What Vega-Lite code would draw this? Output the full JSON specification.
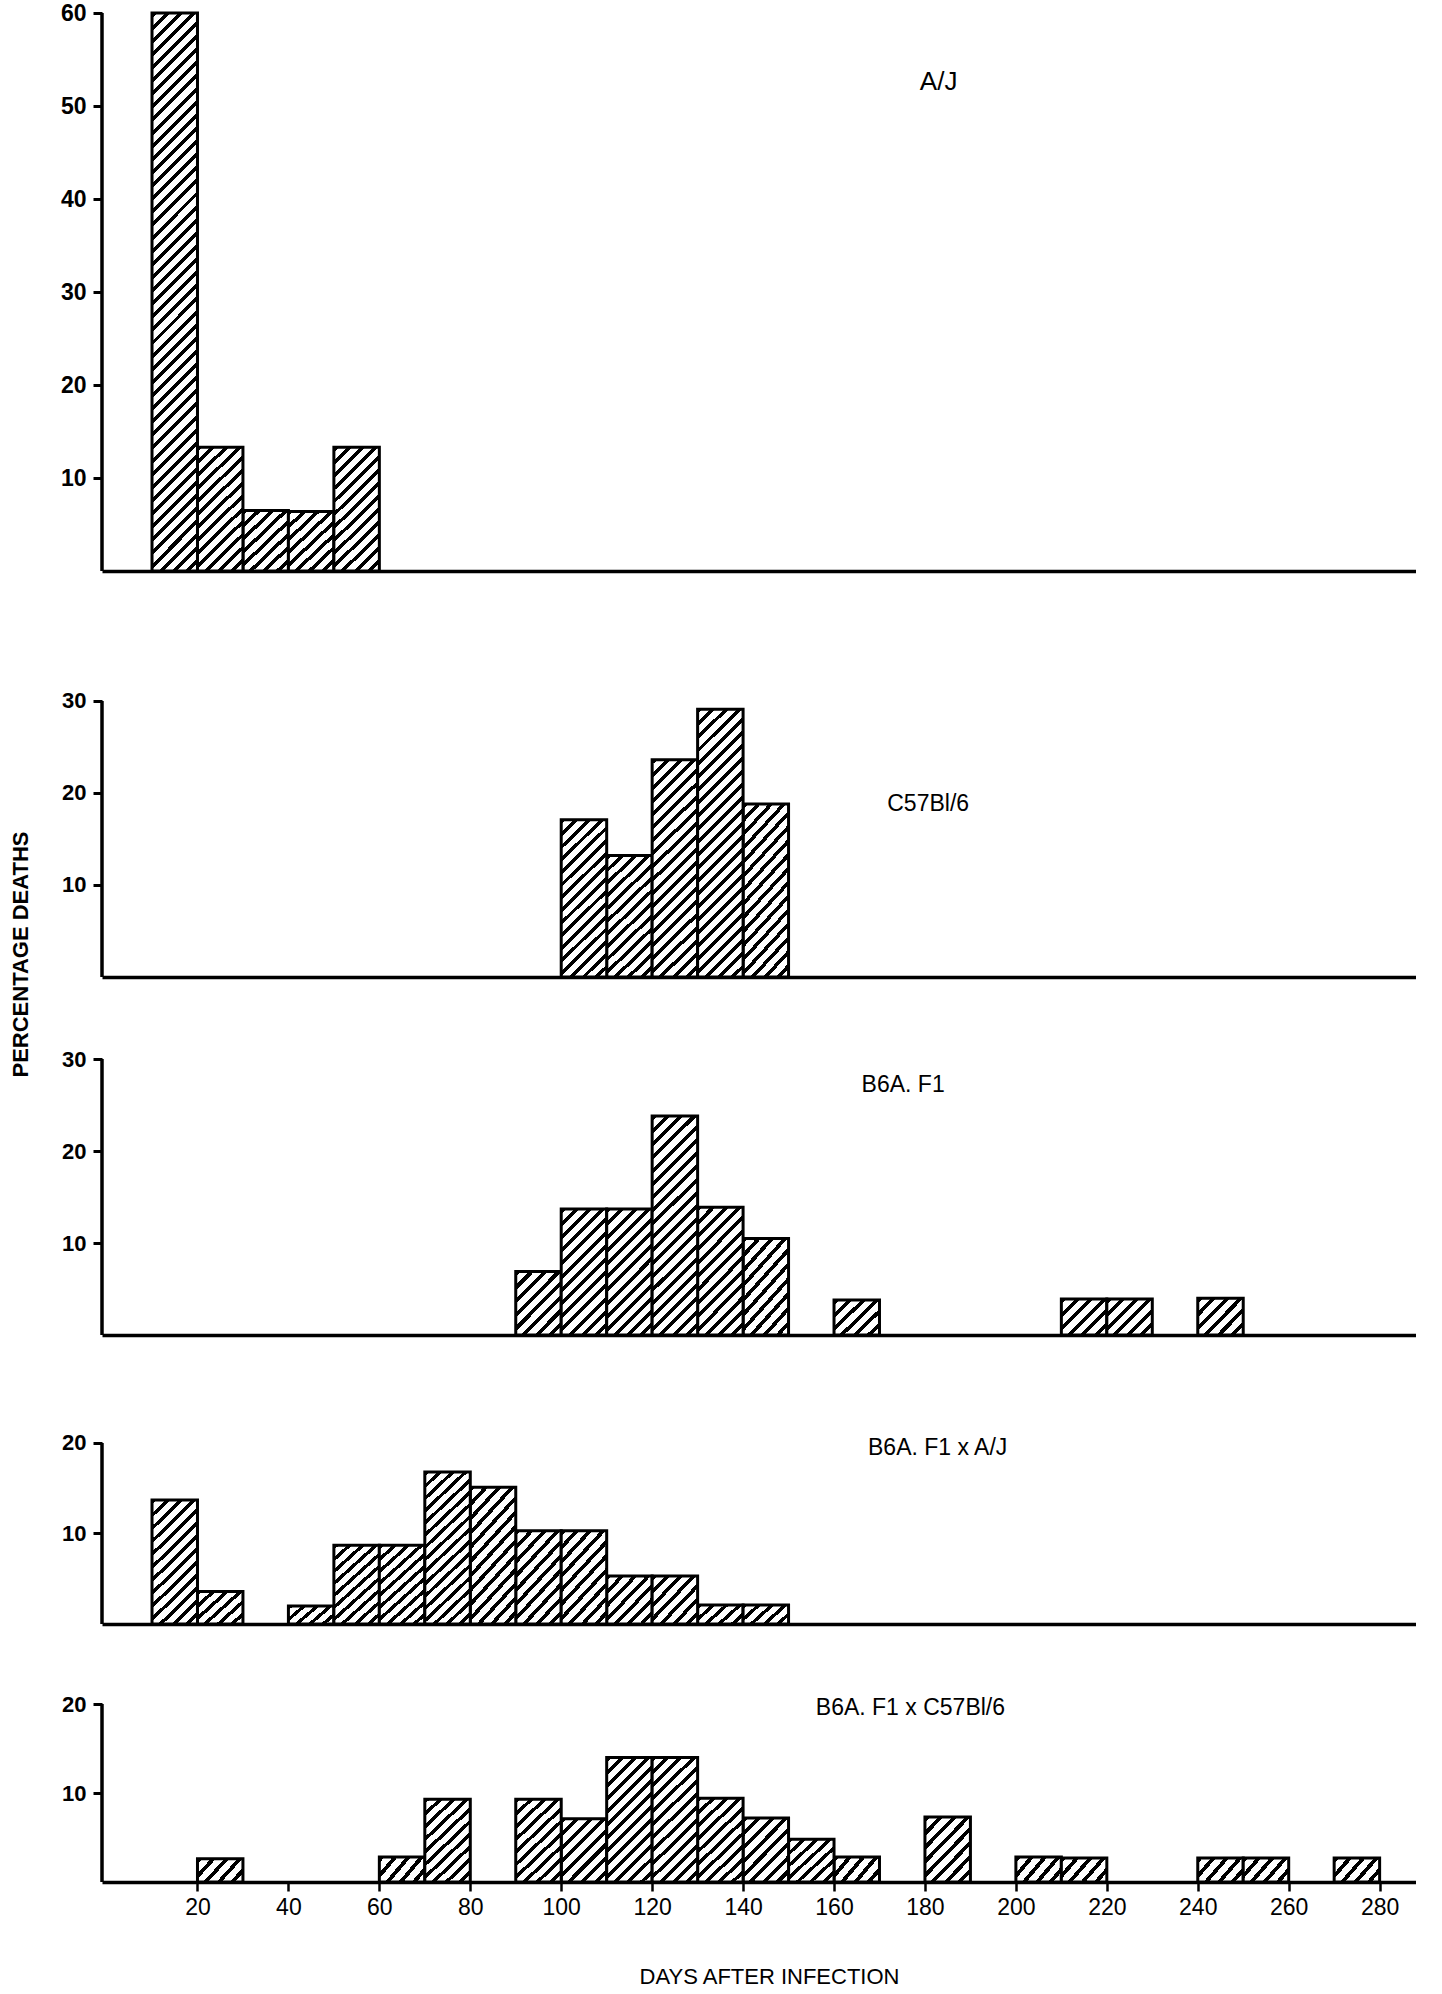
{
"$schema": "https://vega.github.io/schema/vega-lite/v6.json",
"background": "white",
"padding": {"left": 9, "top": 2, "right": 0, "bottom": 0},
"params": [
 {"name": "h1", "value": {"gradient": "linear", "x1": 0, "y1": 0, "x2": 1.2049, "y2": 0.5561, "stops": [
{"offset":0,"color":"#000"},{"offset":0.076,"color":"#000"},{"offset":0.076,"color":"#fff"},{"offset":0.2,"color":"#fff"},
{"offset":0.2,"color":"#000"},{"offset":0.276,"color":"#000"},{"offset":0.276,"color":"#fff"},{"offset":0.4,"color":"#fff"},
{"offset":0.4,"color":"#000"},{"offset":0.476,"color":"#000"},{"offset":0.476,"color":"#fff"},{"offset":0.6,"color":"#fff"},
{"offset":0.6,"color":"#000"},{"offset":0.676,"color":"#000"},{"offset":0.676,"color":"#fff"},{"offset":0.8,"color":"#fff"},
{"offset":0.8,"color":"#000"},{"offset":0.876,"color":"#000"},{"offset":0.876,"color":"#fff"},{"offset":1,"color":"#fff"}]}},
 {"name": "h2", "value": {"gradient": "linear", "x1": 0, "y1": 0, "x2": 1.1016, "y2": 0.8716, "stops": [
{"offset":0,"color":"#000"},{"offset":0.0633,"color":"#000"},{"offset":0.0633,"color":"#fff"},{"offset":0.1667,"color":"#fff"},
{"offset":0.1667,"color":"#000"},{"offset":0.23,"color":"#000"},{"offset":0.23,"color":"#fff"},{"offset":0.3333,"color":"#fff"},
{"offset":0.3333,"color":"#000"},{"offset":0.3967,"color":"#000"},{"offset":0.3967,"color":"#fff"},{"offset":0.5,"color":"#fff"},
{"offset":0.5,"color":"#000"},{"offset":0.5633,"color":"#000"},{"offset":0.5633,"color":"#fff"},{"offset":0.6667,"color":"#fff"},
{"offset":0.6667,"color":"#000"},{"offset":0.73,"color":"#000"},{"offset":0.73,"color":"#fff"},{"offset":0.8333,"color":"#fff"},
{"offset":0.8333,"color":"#000"},{"offset":0.8967,"color":"#000"},{"offset":0.8967,"color":"#fff"},{"offset":1,"color":"#fff"}]}},
 {"name": "h3", "value": {"gradient": "linear", "x1": 0, "y1": 0, "x2": 0.9945, "y2": 1.0054, "stops": [
{"offset":0,"color":"#000"},{"offset":0.0543,"color":"#000"},{"offset":0.0543,"color":"#fff"},{"offset":0.1429,"color":"#fff"},
{"offset":0.1429,"color":"#000"},{"offset":0.1971,"color":"#000"},{"offset":0.1971,"color":"#fff"},{"offset":0.2857,"color":"#fff"},
{"offset":0.2857,"color":"#000"},{"offset":0.34,"color":"#000"},{"offset":0.34,"color":"#fff"},{"offset":0.4286,"color":"#fff"},
{"offset":0.4286,"color":"#000"},{"offset":0.4829,"color":"#000"},{"offset":0.4829,"color":"#fff"},{"offset":0.5714,"color":"#fff"},
{"offset":0.5714,"color":"#000"},{"offset":0.6257,"color":"#000"},{"offset":0.6257,"color":"#fff"},{"offset":0.7143,"color":"#fff"},
{"offset":0.7143,"color":"#000"},{"offset":0.7686,"color":"#000"},{"offset":0.7686,"color":"#fff"},{"offset":0.8571,"color":"#fff"},
{"offset":0.8571,"color":"#000"},{"offset":0.9114,"color":"#000"},{"offset":0.9114,"color":"#fff"},{"offset":1,"color":"#fff"}]}},
 {"name": "h4", "value": {"gradient": "linear", "x1": 0, "y1": 0, "x2": 0.8174, "y2": 1.1318, "stops": [
{"offset":0,"color":"#000"},{"offset":0.0475,"color":"#000"},{"offset":0.0475,"color":"#fff"},{"offset":0.125,"color":"#fff"},
{"offset":0.125,"color":"#000"},{"offset":0.1725,"color":"#000"},{"offset":0.1725,"color":"#fff"},{"offset":0.25,"color":"#fff"},
{"offset":0.25,"color":"#000"},{"offset":0.2975,"color":"#000"},{"offset":0.2975,"color":"#fff"},{"offset":0.375,"color":"#fff"},
{"offset":0.375,"color":"#000"},{"offset":0.4225,"color":"#000"},{"offset":0.4225,"color":"#fff"},{"offset":0.5,"color":"#fff"},
{"offset":0.5,"color":"#000"},{"offset":0.5475,"color":"#000"},{"offset":0.5475,"color":"#fff"},{"offset":0.625,"color":"#fff"},
{"offset":0.625,"color":"#000"},{"offset":0.6725,"color":"#000"},{"offset":0.6725,"color":"#fff"},{"offset":0.75,"color":"#fff"},
{"offset":0.75,"color":"#000"},{"offset":0.7975,"color":"#000"},{"offset":0.7975,"color":"#fff"},{"offset":0.875,"color":"#fff"},
{"offset":0.875,"color":"#000"},{"offset":0.9225,"color":"#000"},{"offset":0.9225,"color":"#fff"},{"offset":1,"color":"#fff"}]}},
 {"name": "h5", "value": {"gradient": "linear", "x1": 0, "y1": 0, "x2": 0.6254, "y2": 1.1959, "stops": [
{"offset":0,"color":"#000"},{"offset":0.038,"color":"#000"},{"offset":0.038,"color":"#fff"},{"offset":0.1,"color":"#fff"},
{"offset":0.1,"color":"#000"},{"offset":0.138,"color":"#000"},{"offset":0.138,"color":"#fff"},{"offset":0.2,"color":"#fff"},
{"offset":0.2,"color":"#000"},{"offset":0.238,"color":"#000"},{"offset":0.238,"color":"#fff"},{"offset":0.3,"color":"#fff"},
{"offset":0.3,"color":"#000"},{"offset":0.338,"color":"#000"},{"offset":0.338,"color":"#fff"},{"offset":0.4,"color":"#fff"},
{"offset":0.4,"color":"#000"},{"offset":0.438,"color":"#000"},{"offset":0.438,"color":"#fff"},{"offset":0.5,"color":"#fff"},
{"offset":0.5,"color":"#000"},{"offset":0.538,"color":"#000"},{"offset":0.538,"color":"#fff"},{"offset":0.6,"color":"#fff"},
{"offset":0.6,"color":"#000"},{"offset":0.638,"color":"#000"},{"offset":0.638,"color":"#fff"},{"offset":0.7,"color":"#fff"},
{"offset":0.7,"color":"#000"},{"offset":0.738,"color":"#000"},{"offset":0.738,"color":"#fff"},{"offset":0.8,"color":"#fff"},
{"offset":0.8,"color":"#000"},{"offset":0.838,"color":"#000"},{"offset":0.838,"color":"#fff"},{"offset":0.9,"color":"#fff"},
{"offset":0.9,"color":"#000"},{"offset":0.938,"color":"#000"},{"offset":0.938,"color":"#fff"},{"offset":1,"color":"#fff"}]}},
 {"name": "h6", "value": {"gradient": "linear", "x1": 0, "y1": 0, "x2": 0.4348, "y2": 1.2041, "stops": [
{"offset":0,"color":"#000"},{"offset":0.0292,"color":"#000"},{"offset":0.0292,"color":"#fff"},{"offset":0.0769,"color":"#fff"},
{"offset":0.0769,"color":"#000"},{"offset":0.1062,"color":"#000"},{"offset":0.1062,"color":"#fff"},{"offset":0.1538,"color":"#fff"},
{"offset":0.1538,"color":"#000"},{"offset":0.1831,"color":"#000"},{"offset":0.1831,"color":"#fff"},{"offset":0.2308,"color":"#fff"},
{"offset":0.2308,"color":"#000"},{"offset":0.26,"color":"#000"},{"offset":0.26,"color":"#fff"},{"offset":0.3077,"color":"#fff"},
{"offset":0.3077,"color":"#000"},{"offset":0.3369,"color":"#000"},{"offset":0.3369,"color":"#fff"},{"offset":0.3846,"color":"#fff"},
{"offset":0.3846,"color":"#000"},{"offset":0.4138,"color":"#000"},{"offset":0.4138,"color":"#fff"},{"offset":0.4615,"color":"#fff"},
{"offset":0.4615,"color":"#000"},{"offset":0.4908,"color":"#000"},{"offset":0.4908,"color":"#fff"},{"offset":0.5385,"color":"#fff"},
{"offset":0.5385,"color":"#000"},{"offset":0.5677,"color":"#000"},{"offset":0.5677,"color":"#fff"},{"offset":0.6154,"color":"#fff"},
{"offset":0.6154,"color":"#000"},{"offset":0.6446,"color":"#000"},{"offset":0.6446,"color":"#fff"},{"offset":0.6923,"color":"#fff"},
{"offset":0.6923,"color":"#000"},{"offset":0.7215,"color":"#000"},{"offset":0.7215,"color":"#fff"},{"offset":0.7692,"color":"#fff"},
{"offset":0.7692,"color":"#000"},{"offset":0.7985,"color":"#000"},{"offset":0.7985,"color":"#fff"},{"offset":0.8462,"color":"#fff"},
{"offset":0.8462,"color":"#000"},{"offset":0.8754,"color":"#000"},{"offset":0.8754,"color":"#fff"},{"offset":0.9231,"color":"#fff"},
{"offset":0.9231,"color":"#000"},{"offset":0.9523,"color":"#000"},{"offset":0.9523,"color":"#fff"},{"offset":1,"color":"#fff"}]}},
 {"name": "h7", "value": {"gradient": "linear", "x1": 0, "y1": 0, "x2": 0.3379, "y2": 1.1883, "stops": [
{"offset":0,"color":"#000"},{"offset":0.0238,"color":"#000"},{"offset":0.0238,"color":"#fff"},{"offset":0.0625,"color":"#fff"},
{"offset":0.0625,"color":"#000"},{"offset":0.0863,"color":"#000"},{"offset":0.0863,"color":"#fff"},{"offset":0.125,"color":"#fff"},
{"offset":0.125,"color":"#000"},{"offset":0.1488,"color":"#000"},{"offset":0.1488,"color":"#fff"},{"offset":0.1875,"color":"#fff"},
{"offset":0.1875,"color":"#000"},{"offset":0.2113,"color":"#000"},{"offset":0.2113,"color":"#fff"},{"offset":0.25,"color":"#fff"},
{"offset":0.25,"color":"#000"},{"offset":0.2738,"color":"#000"},{"offset":0.2738,"color":"#fff"},{"offset":0.3125,"color":"#fff"},
{"offset":0.3125,"color":"#000"},{"offset":0.3363,"color":"#000"},{"offset":0.3363,"color":"#fff"},{"offset":0.375,"color":"#fff"},
{"offset":0.375,"color":"#000"},{"offset":0.3988,"color":"#000"},{"offset":0.3988,"color":"#fff"},{"offset":0.4375,"color":"#fff"},
{"offset":0.4375,"color":"#000"},{"offset":0.4613,"color":"#000"},{"offset":0.4613,"color":"#fff"},{"offset":0.5,"color":"#fff"},
{"offset":0.5,"color":"#000"},{"offset":0.5238,"color":"#000"},{"offset":0.5238,"color":"#fff"},{"offset":0.5625,"color":"#fff"},
{"offset":0.5625,"color":"#000"},{"offset":0.5863,"color":"#000"},{"offset":0.5863,"color":"#fff"},{"offset":0.625,"color":"#fff"},
{"offset":0.625,"color":"#000"},{"offset":0.6488,"color":"#000"},{"offset":0.6488,"color":"#fff"},{"offset":0.6875,"color":"#fff"},
{"offset":0.6875,"color":"#000"},{"offset":0.7113,"color":"#000"},{"offset":0.7113,"color":"#fff"},{"offset":0.75,"color":"#fff"},
{"offset":0.75,"color":"#000"},{"offset":0.7738,"color":"#000"},{"offset":0.7738,"color":"#fff"},{"offset":0.8125,"color":"#fff"},
{"offset":0.8125,"color":"#000"},{"offset":0.8363,"color":"#000"},{"offset":0.8363,"color":"#fff"},{"offset":0.875,"color":"#fff"},
{"offset":0.875,"color":"#000"},{"offset":0.8988,"color":"#000"},{"offset":0.8988,"color":"#fff"},{"offset":0.9375,"color":"#fff"},
{"offset":0.9375,"color":"#000"},{"offset":0.9613,"color":"#000"},{"offset":0.9613,"color":"#fff"},{"offset":1,"color":"#fff"}]}},
 {"name": "h8", "value": {"gradient": "linear", "x1": 0, "y1": 0, "x2": 0.2394, "y2": 1.1573, "stops": [
{"offset":0,"color":"#000"},{"offset":0.019,"color":"#000"},{"offset":0.019,"color":"#fff"},{"offset":0.05,"color":"#fff"},
{"offset":0.05,"color":"#000"},{"offset":0.069,"color":"#000"},{"offset":0.069,"color":"#fff"},{"offset":0.1,"color":"#fff"},
{"offset":0.1,"color":"#000"},{"offset":0.119,"color":"#000"},{"offset":0.119,"color":"#fff"},{"offset":0.15,"color":"#fff"},
{"offset":0.15,"color":"#000"},{"offset":0.169,"color":"#000"},{"offset":0.169,"color":"#fff"},{"offset":0.2,"color":"#fff"},
{"offset":0.2,"color":"#000"},{"offset":0.219,"color":"#000"},{"offset":0.219,"color":"#fff"},{"offset":0.25,"color":"#fff"},
{"offset":0.25,"color":"#000"},{"offset":0.269,"color":"#000"},{"offset":0.269,"color":"#fff"},{"offset":0.3,"color":"#fff"},
{"offset":0.3,"color":"#000"},{"offset":0.319,"color":"#000"},{"offset":0.319,"color":"#fff"},{"offset":0.35,"color":"#fff"},
{"offset":0.35,"color":"#000"},{"offset":0.369,"color":"#000"},{"offset":0.369,"color":"#fff"},{"offset":0.4,"color":"#fff"},
{"offset":0.4,"color":"#000"},{"offset":0.419,"color":"#000"},{"offset":0.419,"color":"#fff"},{"offset":0.45,"color":"#fff"},
{"offset":0.45,"color":"#000"},{"offset":0.469,"color":"#000"},{"offset":0.469,"color":"#fff"},{"offset":0.5,"color":"#fff"},
{"offset":0.5,"color":"#000"},{"offset":0.519,"color":"#000"},{"offset":0.519,"color":"#fff"},{"offset":0.55,"color":"#fff"},
{"offset":0.55,"color":"#000"},{"offset":0.569,"color":"#000"},{"offset":0.569,"color":"#fff"},{"offset":0.6,"color":"#fff"},
{"offset":0.6,"color":"#000"},{"offset":0.619,"color":"#000"},{"offset":0.619,"color":"#fff"},{"offset":0.65,"color":"#fff"},
{"offset":0.65,"color":"#000"},{"offset":0.669,"color":"#000"},{"offset":0.669,"color":"#fff"},{"offset":0.7,"color":"#fff"},
{"offset":0.7,"color":"#000"},{"offset":0.719,"color":"#000"},{"offset":0.719,"color":"#fff"},{"offset":0.75,"color":"#fff"},
{"offset":0.75,"color":"#000"},{"offset":0.769,"color":"#000"},{"offset":0.769,"color":"#fff"},{"offset":0.8,"color":"#fff"},
{"offset":0.8,"color":"#000"},{"offset":0.819,"color":"#000"},{"offset":0.819,"color":"#fff"},{"offset":0.85,"color":"#fff"},
{"offset":0.85,"color":"#000"},{"offset":0.869,"color":"#000"},{"offset":0.869,"color":"#fff"},{"offset":0.9,"color":"#fff"},
{"offset":0.9,"color":"#000"},{"offset":0.919,"color":"#000"},{"offset":0.919,"color":"#fff"},{"offset":0.95,"color":"#fff"},
{"offset":0.95,"color":"#000"},{"offset":0.969,"color":"#000"},{"offset":0.969,"color":"#fff"},{"offset":1,"color":"#fff"}]}},
 {"name": "h9", "value": {"gradient": "linear", "x1": 0, "y1": 0, "x2": 0.1923, "y2": 1.1366, "stops": [
{"offset":0,"color":"#000"},{"offset":0.0158,"color":"#000"},{"offset":0.0158,"color":"#fff"},{"offset":0.0417,"color":"#fff"},
{"offset":0.0417,"color":"#000"},{"offset":0.0575,"color":"#000"},{"offset":0.0575,"color":"#fff"},{"offset":0.0833,"color":"#fff"},
{"offset":0.0833,"color":"#000"},{"offset":0.0992,"color":"#000"},{"offset":0.0992,"color":"#fff"},{"offset":0.125,"color":"#fff"},
{"offset":0.125,"color":"#000"},{"offset":0.1408,"color":"#000"},{"offset":0.1408,"color":"#fff"},{"offset":0.1667,"color":"#fff"},
{"offset":0.1667,"color":"#000"},{"offset":0.1825,"color":"#000"},{"offset":0.1825,"color":"#fff"},{"offset":0.2083,"color":"#fff"},
{"offset":0.2083,"color":"#000"},{"offset":0.2242,"color":"#000"},{"offset":0.2242,"color":"#fff"},{"offset":0.25,"color":"#fff"},
{"offset":0.25,"color":"#000"},{"offset":0.2658,"color":"#000"},{"offset":0.2658,"color":"#fff"},{"offset":0.2917,"color":"#fff"},
{"offset":0.2917,"color":"#000"},{"offset":0.3075,"color":"#000"},{"offset":0.3075,"color":"#fff"},{"offset":0.3333,"color":"#fff"},
{"offset":0.3333,"color":"#000"},{"offset":0.3492,"color":"#000"},{"offset":0.3492,"color":"#fff"},{"offset":0.375,"color":"#fff"},
{"offset":0.375,"color":"#000"},{"offset":0.3908,"color":"#000"},{"offset":0.3908,"color":"#fff"},{"offset":0.4167,"color":"#fff"},
{"offset":0.4167,"color":"#000"},{"offset":0.4325,"color":"#000"},{"offset":0.4325,"color":"#fff"},{"offset":0.4583,"color":"#fff"},
{"offset":0.4583,"color":"#000"},{"offset":0.4742,"color":"#000"},{"offset":0.4742,"color":"#fff"},{"offset":0.5,"color":"#fff"},
{"offset":0.5,"color":"#000"},{"offset":0.5158,"color":"#000"},{"offset":0.5158,"color":"#fff"},{"offset":0.5417,"color":"#fff"},
{"offset":0.5417,"color":"#000"},{"offset":0.5575,"color":"#000"},{"offset":0.5575,"color":"#fff"},{"offset":0.5833,"color":"#fff"},
{"offset":0.5833,"color":"#000"},{"offset":0.5992,"color":"#000"},{"offset":0.5992,"color":"#fff"},{"offset":0.625,"color":"#fff"},
{"offset":0.625,"color":"#000"},{"offset":0.6408,"color":"#000"},{"offset":0.6408,"color":"#fff"},{"offset":0.6667,"color":"#fff"},
{"offset":0.6667,"color":"#000"},{"offset":0.6825,"color":"#000"},{"offset":0.6825,"color":"#fff"},{"offset":0.7083,"color":"#fff"},
{"offset":0.7083,"color":"#000"},{"offset":0.7242,"color":"#000"},{"offset":0.7242,"color":"#fff"},{"offset":0.75,"color":"#fff"},
{"offset":0.75,"color":"#000"},{"offset":0.7658,"color":"#000"},{"offset":0.7658,"color":"#fff"},{"offset":0.7917,"color":"#fff"},
{"offset":0.7917,"color":"#000"},{"offset":0.8075,"color":"#000"},{"offset":0.8075,"color":"#fff"},{"offset":0.8333,"color":"#fff"},
{"offset":0.8333,"color":"#000"},{"offset":0.8492,"color":"#000"},{"offset":0.8492,"color":"#fff"},{"offset":0.875,"color":"#fff"},
{"offset":0.875,"color":"#000"},{"offset":0.8908,"color":"#000"},{"offset":0.8908,"color":"#fff"},{"offset":0.9167,"color":"#fff"},
{"offset":0.9167,"color":"#000"},{"offset":0.9325,"color":"#000"},{"offset":0.9325,"color":"#fff"},{"offset":0.9583,"color":"#fff"},
{"offset":0.9583,"color":"#000"},{"offset":0.9742,"color":"#000"},{"offset":0.9742,"color":"#fff"},{"offset":1,"color":"#fff"}]}},
 {"name": "h10", "value": {"gradient": "linear", "x1": 0, "y1": 0, "x2": 0.0876, "y2": 1.0744, "stops": [
{"offset":0,"color":"#000"},{"offset":0.0083,"color":"#000"},{"offset":0.0083,"color":"#fff"},{"offset":0.0217,"color":"#fff"},
{"offset":0.0217,"color":"#000"},{"offset":0.03,"color":"#000"},{"offset":0.03,"color":"#fff"},{"offset":0.0435,"color":"#fff"},
{"offset":0.0435,"color":"#000"},{"offset":0.0518,"color":"#000"},{"offset":0.0518,"color":"#fff"},{"offset":0.0652,"color":"#fff"},
{"offset":0.0652,"color":"#000"},{"offset":0.0735,"color":"#000"},{"offset":0.0735,"color":"#fff"},{"offset":0.087,"color":"#fff"},
{"offset":0.087,"color":"#000"},{"offset":0.0952,"color":"#000"},{"offset":0.0952,"color":"#fff"},{"offset":0.1087,"color":"#fff"},
{"offset":0.1087,"color":"#000"},{"offset":0.117,"color":"#000"},{"offset":0.117,"color":"#fff"},{"offset":0.1304,"color":"#fff"},
{"offset":0.1304,"color":"#000"},{"offset":0.1387,"color":"#000"},{"offset":0.1387,"color":"#fff"},{"offset":0.1522,"color":"#fff"},
{"offset":0.1522,"color":"#000"},{"offset":0.1604,"color":"#000"},{"offset":0.1604,"color":"#fff"},{"offset":0.1739,"color":"#fff"},
{"offset":0.1739,"color":"#000"},{"offset":0.1822,"color":"#000"},{"offset":0.1822,"color":"#fff"},{"offset":0.1957,"color":"#fff"},
{"offset":0.1957,"color":"#000"},{"offset":0.2039,"color":"#000"},{"offset":0.2039,"color":"#fff"},{"offset":0.2174,"color":"#fff"},
{"offset":0.2174,"color":"#000"},{"offset":0.2257,"color":"#000"},{"offset":0.2257,"color":"#fff"},{"offset":0.2391,"color":"#fff"},
{"offset":0.2391,"color":"#000"},{"offset":0.2474,"color":"#000"},{"offset":0.2474,"color":"#fff"},{"offset":0.2609,"color":"#fff"},
{"offset":0.2609,"color":"#000"},{"offset":0.2691,"color":"#000"},{"offset":0.2691,"color":"#fff"},{"offset":0.2826,"color":"#fff"},
{"offset":0.2826,"color":"#000"},{"offset":0.2909,"color":"#000"},{"offset":0.2909,"color":"#fff"},{"offset":0.3043,"color":"#fff"},
{"offset":0.3043,"color":"#000"},{"offset":0.3126,"color":"#000"},{"offset":0.3126,"color":"#fff"},{"offset":0.3261,"color":"#fff"},
{"offset":0.3261,"color":"#000"},{"offset":0.3343,"color":"#000"},{"offset":0.3343,"color":"#fff"},{"offset":0.3478,"color":"#fff"},
{"offset":0.3478,"color":"#000"},{"offset":0.3561,"color":"#000"},{"offset":0.3561,"color":"#fff"},{"offset":0.3696,"color":"#fff"},
{"offset":0.3696,"color":"#000"},{"offset":0.3778,"color":"#000"},{"offset":0.3778,"color":"#fff"},{"offset":0.3913,"color":"#fff"},
{"offset":0.3913,"color":"#000"},{"offset":0.3996,"color":"#000"},{"offset":0.3996,"color":"#fff"},{"offset":0.413,"color":"#fff"},
{"offset":0.413,"color":"#000"},{"offset":0.4213,"color":"#000"},{"offset":0.4213,"color":"#fff"},{"offset":0.4348,"color":"#fff"},
{"offset":0.4348,"color":"#000"},{"offset":0.443,"color":"#000"},{"offset":0.443,"color":"#fff"},{"offset":0.4565,"color":"#fff"},
{"offset":0.4565,"color":"#000"},{"offset":0.4648,"color":"#000"},{"offset":0.4648,"color":"#fff"},{"offset":0.4783,"color":"#fff"},
{"offset":0.4783,"color":"#000"},{"offset":0.4865,"color":"#000"},{"offset":0.4865,"color":"#fff"},{"offset":0.5,"color":"#fff"},
{"offset":0.5,"color":"#000"},{"offset":0.5083,"color":"#000"},{"offset":0.5083,"color":"#fff"},{"offset":0.5217,"color":"#fff"},
{"offset":0.5217,"color":"#000"},{"offset":0.53,"color":"#000"},{"offset":0.53,"color":"#fff"},{"offset":0.5435,"color":"#fff"},
{"offset":0.5435,"color":"#000"},{"offset":0.5517,"color":"#000"},{"offset":0.5517,"color":"#fff"},{"offset":0.5652,"color":"#fff"},
{"offset":0.5652,"color":"#000"},{"offset":0.5735,"color":"#000"},{"offset":0.5735,"color":"#fff"},{"offset":0.587,"color":"#fff"},
{"offset":0.587,"color":"#000"},{"offset":0.5952,"color":"#000"},{"offset":0.5952,"color":"#fff"},{"offset":0.6087,"color":"#fff"},
{"offset":0.6087,"color":"#000"},{"offset":0.617,"color":"#000"},{"offset":0.617,"color":"#fff"},{"offset":0.6304,"color":"#fff"},
{"offset":0.6304,"color":"#000"},{"offset":0.6387,"color":"#000"},{"offset":0.6387,"color":"#fff"},{"offset":0.6522,"color":"#fff"},
{"offset":0.6522,"color":"#000"},{"offset":0.6604,"color":"#000"},{"offset":0.6604,"color":"#fff"},{"offset":0.6739,"color":"#fff"},
{"offset":0.6739,"color":"#000"},{"offset":0.6822,"color":"#000"},{"offset":0.6822,"color":"#fff"},{"offset":0.6957,"color":"#fff"},
{"offset":0.6957,"color":"#000"},{"offset":0.7039,"color":"#000"},{"offset":0.7039,"color":"#fff"},{"offset":0.7174,"color":"#fff"},
{"offset":0.7174,"color":"#000"},{"offset":0.7257,"color":"#000"},{"offset":0.7257,"color":"#fff"},{"offset":0.7391,"color":"#fff"},
{"offset":0.7391,"color":"#000"},{"offset":0.7474,"color":"#000"},{"offset":0.7474,"color":"#fff"},{"offset":0.7609,"color":"#fff"},
{"offset":0.7609,"color":"#000"},{"offset":0.7691,"color":"#000"},{"offset":0.7691,"color":"#fff"},{"offset":0.7826,"color":"#fff"},
{"offset":0.7826,"color":"#000"},{"offset":0.7909,"color":"#000"},{"offset":0.7909,"color":"#fff"},{"offset":0.8043,"color":"#fff"},
{"offset":0.8043,"color":"#000"},{"offset":0.8126,"color":"#000"},{"offset":0.8126,"color":"#fff"},{"offset":0.8261,"color":"#fff"},
{"offset":0.8261,"color":"#000"},{"offset":0.8343,"color":"#000"},{"offset":0.8343,"color":"#fff"},{"offset":0.8478,"color":"#fff"},
{"offset":0.8478,"color":"#000"},{"offset":0.8561,"color":"#000"},{"offset":0.8561,"color":"#fff"},{"offset":0.8696,"color":"#fff"},
{"offset":0.8696,"color":"#000"},{"offset":0.8778,"color":"#000"},{"offset":0.8778,"color":"#fff"},{"offset":0.8913,"color":"#fff"},
{"offset":0.8913,"color":"#000"},{"offset":0.8996,"color":"#000"},{"offset":0.8996,"color":"#fff"},{"offset":0.913,"color":"#fff"},
{"offset":0.913,"color":"#000"},{"offset":0.9213,"color":"#000"},{"offset":0.9213,"color":"#fff"},{"offset":0.9348,"color":"#fff"},
{"offset":0.9348,"color":"#000"},{"offset":0.943,"color":"#000"},{"offset":0.943,"color":"#fff"},{"offset":0.9565,"color":"#fff"},
{"offset":0.9565,"color":"#000"},{"offset":0.9648,"color":"#000"},{"offset":0.9648,"color":"#fff"},{"offset":0.9783,"color":"#fff"},
{"offset":0.9783,"color":"#000"},{"offset":0.9865,"color":"#000"},{"offset":0.9865,"color":"#fff"},{"offset":1,"color":"#fff"}]}}
],
"config": {
 "view": {"stroke": null},
 "font": "Liberation Sans",
 "axis": {"grid": false, "domainColor": "black", "tickColor": "black", "labelColor": "black", "titleColor": "black", "labelFont": "Liberation Sans", "titleFont": "Liberation Sans"},
 "bar": {"stroke": "black", "strokeWidth": 3, "strokeJoin": "miter"},
 "text": {"font": "Liberation Sans", "color": "black"}
},
"datasets": {
 "deaths": [
  {"strain": "A/J", "day_from": 10, "day_to": 20, "pct": 60},
  {"strain": "A/J", "day_from": 20, "day_to": 30, "pct": 13.3},
  {"strain": "A/J", "day_from": 30, "day_to": 40, "pct": 6.5},
  {"strain": "A/J", "day_from": 40, "day_to": 50, "pct": 6.4},
  {"strain": "A/J", "day_from": 50, "day_to": 60, "pct": 13.3},
  {"strain": "C57Bl/6", "day_from": 100, "day_to": 110, "pct": 17.1},
  {"strain": "C57Bl/6", "day_from": 110, "day_to": 120, "pct": 13.2},
  {"strain": "C57Bl/6", "day_from": 120, "day_to": 130, "pct": 23.6},
  {"strain": "C57Bl/6", "day_from": 130, "day_to": 140, "pct": 29.1},
  {"strain": "C57Bl/6", "day_from": 140, "day_to": 150, "pct": 18.8},
  {"strain": "B6A.F1", "day_from": 90, "day_to": 100, "pct": 6.9},
  {"strain": "B6A.F1", "day_from": 100, "day_to": 110, "pct": 13.7},
  {"strain": "B6A.F1", "day_from": 110, "day_to": 120, "pct": 13.7},
  {"strain": "B6A.F1", "day_from": 120, "day_to": 130, "pct": 23.8},
  {"strain": "B6A.F1", "day_from": 130, "day_to": 140, "pct": 13.9},
  {"strain": "B6A.F1", "day_from": 140, "day_to": 150, "pct": 10.5},
  {"strain": "B6A.F1", "day_from": 160, "day_to": 170, "pct": 3.8},
  {"strain": "B6A.F1", "day_from": 210, "day_to": 220, "pct": 3.9},
  {"strain": "B6A.F1", "day_from": 220, "day_to": 230, "pct": 3.9},
  {"strain": "B6A.F1", "day_from": 240, "day_to": 250, "pct": 4.0},
  {"strain": "B6A.F1 x A/J", "day_from": 10, "day_to": 20, "pct": 13.7},
  {"strain": "B6A.F1 x A/J", "day_from": 20, "day_to": 30, "pct": 3.6},
  {"strain": "B6A.F1 x A/J", "day_from": 40, "day_to": 50, "pct": 2.0},
  {"strain": "B6A.F1 x A/J", "day_from": 50, "day_to": 60, "pct": 8.7},
  {"strain": "B6A.F1 x A/J", "day_from": 60, "day_to": 70, "pct": 8.7},
  {"strain": "B6A.F1 x A/J", "day_from": 70, "day_to": 80, "pct": 16.8},
  {"strain": "B6A.F1 x A/J", "day_from": 80, "day_to": 90, "pct": 15.1},
  {"strain": "B6A.F1 x A/J", "day_from": 90, "day_to": 100, "pct": 10.3},
  {"strain": "B6A.F1 x A/J", "day_from": 100, "day_to": 110, "pct": 10.3},
  {"strain": "B6A.F1 x A/J", "day_from": 110, "day_to": 120, "pct": 5.3},
  {"strain": "B6A.F1 x A/J", "day_from": 120, "day_to": 130, "pct": 5.3},
  {"strain": "B6A.F1 x A/J", "day_from": 130, "day_to": 140, "pct": 2.1},
  {"strain": "B6A.F1 x A/J", "day_from": 140, "day_to": 150, "pct": 2.1},
  {"strain": "B6A.F1 x C57Bl/6", "day_from": 20, "day_to": 30, "pct": 2.6},
  {"strain": "B6A.F1 x C57Bl/6", "day_from": 60, "day_to": 70, "pct": 2.8},
  {"strain": "B6A.F1 x C57Bl/6", "day_from": 70, "day_to": 80, "pct": 9.3},
  {"strain": "B6A.F1 x C57Bl/6", "day_from": 90, "day_to": 100, "pct": 9.3},
  {"strain": "B6A.F1 x C57Bl/6", "day_from": 100, "day_to": 110, "pct": 7.1},
  {"strain": "B6A.F1 x C57Bl/6", "day_from": 110, "day_to": 120, "pct": 14.0},
  {"strain": "B6A.F1 x C57Bl/6", "day_from": 120, "day_to": 130, "pct": 14.0},
  {"strain": "B6A.F1 x C57Bl/6", "day_from": 130, "day_to": 140, "pct": 9.4},
  {"strain": "B6A.F1 x C57Bl/6", "day_from": 140, "day_to": 150, "pct": 7.2},
  {"strain": "B6A.F1 x C57Bl/6", "day_from": 150, "day_to": 160, "pct": 4.8},
  {"strain": "B6A.F1 x C57Bl/6", "day_from": 160, "day_to": 170, "pct": 2.8},
  {"strain": "B6A.F1 x C57Bl/6", "day_from": 180, "day_to": 190, "pct": 7.3},
  {"strain": "B6A.F1 x C57Bl/6", "day_from": 200, "day_to": 210, "pct": 2.8},
  {"strain": "B6A.F1 x C57Bl/6", "day_from": 210, "day_to": 220, "pct": 2.7},
  {"strain": "B6A.F1 x C57Bl/6", "day_from": 240, "day_to": 250, "pct": 2.7},
  {"strain": "B6A.F1 x C57Bl/6", "day_from": 250, "day_to": 260, "pct": 2.7},
  {"strain": "B6A.F1 x C57Bl/6", "day_from": 270, "day_to": 280, "pct": 2.7}
 ]
},
"bounds": "flush",
"spacing": 80,
"vconcat": [
 {
  "width": 1314, "height": 558,
  "layer": [
   {
    "data": {"name": "deaths"},
    "transform": [{"filter": "datum.strain === 'A/J'"}],
    "encoding": {
     "x": {"field": "day_from", "type": "quantitative", "scale": {"domain": [-1, 288], "nice": false, "zero": false}, "axis": {"ticks": false, "labels": false, "title": null, "domainWidth": 3.5}},
     "x2": {"field": "day_to"},
     "y": {"field": "pct", "type": "quantitative", "scale": {"domain": [0, 60], "nice": false}, "axis": {"values": [10, 20, 30, 40, 50, 60], "domain": false, "tickSize": 9, "tickWidth": 3, "labelFontSize": 23, "labelFontWeight": "bold", "labelPadding": 7, "title": null}},
     "y2": {"datum": 0}
    },
    "layer": [
     {"transform": [{"filter": "datum.pct >= 6 && datum.pct < 8"}], "mark": {"type": "bar", "fill": {"expr": "h4"}}},
     {"transform": [{"filter": "datum.pct >= 11.5 && datum.pct < 15.6"}], "mark": {"type": "bar", "fill": {"expr": "h6"}}},
     {"transform": [{"filter": "datum.pct >= 35"}], "mark": {"type": "bar", "fill": {"expr": "h10"}}}
    ]
   },
   {
    "data": {"values": [{}]},
    "mark": {"type": "rule", "strokeWidth": 3.5, "color": "black"},
    "encoding": {"x": {"datum": -1}, "y": {"datum": 0}, "y2": {"datum": 60}}
   },
   {
    "data": {"values": [{}]},
    "mark": {"type": "text", "fontSize": 26, "align": "center", "baseline": "middle"},
    "encoding": {"x": {"datum": 183}, "y": {"datum": 52.6}, "text": {"value": "A/J"}}
   }
  ]
 },
 {
  "width": 1314, "height": 326,
  "layer": [
   {
    "data": {"name": "deaths"},
    "transform": [{"filter": "datum.strain === 'C57Bl/6'"}],
    "encoding": {
     "x": {"field": "day_from", "type": "quantitative", "scale": {"domain": [-1, 288], "nice": false, "zero": false}, "axis": {"ticks": false, "labels": false, "title": null, "domainWidth": 3.5}},
     "x2": {"field": "day_to"},
     "y": {"field": "pct", "type": "quantitative", "scale": {"domain": [0, 35.43], "nice": false}, "axis": {"values": [10, 20, 30], "domain": false, "tickSize": 9, "tickWidth": 3, "labelFontSize": 22, "labelFontWeight": "bold", "labelPadding": 7, "title": "PERCENTAGE DEATHS", "titleX": -82, "titleY": 303, "titleAngle": 270, "titleAlign": "center", "titleBaseline": "middle", "titleFontSize": 22, "titleFontWeight": "bold"}},
     "y2": {"datum": 0}
    },
    "layer": [
     {"transform": [{"filter": "datum.pct >= 11.5 && datum.pct < 15.6"}], "mark": {"type": "bar", "fill": {"expr": "h6"}}},
     {"transform": [{"filter": "datum.pct >= 15.6 && datum.pct < 20"}], "mark": {"type": "bar", "fill": {"expr": "h7"}}},
     {"transform": [{"filter": "datum.pct >= 20 && datum.pct < 26"}], "mark": {"type": "bar", "fill": {"expr": "h8"}}},
     {"transform": [{"filter": "datum.pct >= 26 && datum.pct < 35"}], "mark": {"type": "bar", "fill": {"expr": "h9"}}}
    ]
   },
   {
    "data": {"values": [{}]},
    "mark": {"type": "rule", "strokeWidth": 3.5, "color": "black"},
    "encoding": {"x": {"datum": -1}, "y": {"datum": 0}, "y2": {"datum": 30}}
   },
   {
    "data": {"values": [{}]},
    "mark": {"type": "text", "fontSize": 23, "align": "center", "baseline": "middle"},
    "encoding": {"x": {"datum": 180.7}, "y": {"datum": 18.8}, "text": {"value": "C57Bl/6"}}
   }
  ]
 },
 {
  "width": 1314, "height": 278,
  "layer": [
   {
    "data": {"name": "deaths"},
    "transform": [{"filter": "datum.strain === 'B6A.F1'"}],
    "encoding": {
     "x": {"field": "day_from", "type": "quantitative", "scale": {"domain": [-1, 288], "nice": false, "zero": false}, "axis": {"ticks": false, "labels": false, "title": null, "domainWidth": 3.5}},
     "x2": {"field": "day_to"},
     "y": {"field": "pct", "type": "quantitative", "scale": {"domain": [0, 30.22], "nice": false}, "axis": {"values": [10, 20, 30], "domain": false, "tickSize": 9, "tickWidth": 3, "labelFontSize": 22, "labelFontWeight": "bold", "labelPadding": 7, "title": null}},
     "y2": {"datum": 0}
    },
    "layer": [
     {"transform": [{"filter": "datum.pct >= 3 && datum.pct < 4.5"}], "mark": {"type": "bar", "fill": {"expr": "h2"}}},
     {"transform": [{"filter": "datum.pct >= 6 && datum.pct < 8"}], "mark": {"type": "bar", "fill": {"expr": "h4"}}},
     {"transform": [{"filter": "datum.pct >= 8 && datum.pct < 11.5"}], "mark": {"type": "bar", "fill": {"expr": "h5"}}},
     {"transform": [{"filter": "datum.pct >= 11.5 && datum.pct < 15.6"}], "mark": {"type": "bar", "fill": {"expr": "h6"}}},
     {"transform": [{"filter": "datum.pct >= 20 && datum.pct < 26"}], "mark": {"type": "bar", "fill": {"expr": "h8"}}}
    ]
   },
   {
    "data": {"values": [{}]},
    "mark": {"type": "rule", "strokeWidth": 3.5, "color": "black"},
    "encoding": {"x": {"datum": -1}, "y": {"datum": 0}, "y2": {"datum": 30}}
   },
   {
    "data": {"values": [{}]},
    "mark": {"type": "text", "fontSize": 23, "align": "center", "baseline": "middle"},
    "encoding": {"x": {"datum": 175.2}, "y": {"datum": 27.2}, "text": {"value": "B6A. F1"}}
   }
  ]
 },
 {
  "width": 1314, "height": 209,
  "layer": [
   {
    "data": {"name": "deaths"},
    "transform": [{"filter": "datum.strain === 'B6A.F1 x A/J'"}],
    "encoding": {
     "x": {"field": "day_from", "type": "quantitative", "scale": {"domain": [-1, 288], "nice": false, "zero": false}, "axis": {"ticks": false, "labels": false, "title": null, "domainWidth": 3.5}},
     "x2": {"field": "day_to"},
     "y": {"field": "pct", "type": "quantitative", "scale": {"domain": [0, 23.09], "nice": false}, "axis": {"values": [10, 20], "domain": false, "tickSize": 9, "tickWidth": 3, "labelFontSize": 22, "labelFontWeight": "bold", "labelPadding": 7, "title": null}},
     "y2": {"datum": 0}
    },
    "layer": [
     {"transform": [{"filter": "datum.pct < 3"}], "mark": {"type": "bar", "fill": {"expr": "h1"}}},
     {"transform": [{"filter": "datum.pct >= 3 && datum.pct < 4.5"}], "mark": {"type": "bar", "fill": {"expr": "h2"}}},
     {"transform": [{"filter": "datum.pct >= 4.5 && datum.pct < 6"}], "mark": {"type": "bar", "fill": {"expr": "h3"}}},
     {"transform": [{"filter": "datum.pct >= 8 && datum.pct < 11.5"}], "mark": {"type": "bar", "fill": {"expr": "h5"}}},
     {"transform": [{"filter": "datum.pct >= 11.5 && datum.pct < 15.6"}], "mark": {"type": "bar", "fill": {"expr": "h6"}}},
     {"transform": [{"filter": "datum.pct >= 15.6 && datum.pct < 20"}], "mark": {"type": "bar", "fill": {"expr": "h7"}}}
    ]
   },
   {
    "data": {"values": [{}]},
    "mark": {"type": "rule", "strokeWidth": 3.5, "color": "black"},
    "encoding": {"x": {"datum": -1}, "y": {"datum": 0}, "y2": {"datum": 20}}
   },
   {
    "data": {"values": [{}]},
    "mark": {"type": "text", "fontSize": 23, "align": "center", "baseline": "middle"},
    "encoding": {"x": {"datum": 182.8}, "y": {"datum": 19.4}, "text": {"value": "B6A. F1 x A/J"}}
   }
  ]
 },
 {
  "width": 1314, "height": 178,
  "layer": [
   {
    "data": {"name": "deaths"},
    "transform": [{"filter": "datum.strain === 'B6A.F1 x C57Bl/6'"}],
    "encoding": {
     "x": {"field": "day_from", "type": "quantitative", "scale": {"domain": [-1, 288], "nice": false, "zero": false}, "axis": {"values": [20, 40, 60, 80, 100, 120, 140, 160, 180, 200, 220, 240, 260, 280], "tickSize": 9, "tickWidth": 2.5, "labelFontSize": 23, "labelPadding": 5, "labelFlush": false, "domainWidth": 3.5, "title": "DAYS AFTER INFECTION", "titleX": 667, "titleFontSize": 22, "titleFontWeight": "normal", "titlePadding": 47}},
     "x2": {"field": "day_to"},
     "y": {"field": "pct", "type": "quantitative", "scale": {"domain": [0, 20], "nice": false}, "axis": {"values": [10, 20], "domain": false, "tickSize": 9, "tickWidth": 3, "labelFontSize": 22, "labelFontWeight": "bold", "labelPadding": 7, "title": null}},
     "y2": {"datum": 0}
    },
    "layer": [
     {"transform": [{"filter": "datum.pct < 3"}], "mark": {"type": "bar", "fill": {"expr": "h1"}}},
     {"transform": [{"filter": "datum.pct >= 4.5 && datum.pct < 6"}], "mark": {"type": "bar", "fill": {"expr": "h3"}}},
     {"transform": [{"filter": "datum.pct >= 6 && datum.pct < 8"}], "mark": {"type": "bar", "fill": {"expr": "h4"}}},
     {"transform": [{"filter": "datum.pct >= 8 && datum.pct < 11.5"}], "mark": {"type": "bar", "fill": {"expr": "h5"}}},
     {"transform": [{"filter": "datum.pct >= 11.5 && datum.pct < 15.6"}], "mark": {"type": "bar", "fill": {"expr": "h6"}}}
    ]
   },
   {
    "data": {"values": [{}]},
    "mark": {"type": "rule", "strokeWidth": 3.5, "color": "black"},
    "encoding": {"x": {"datum": -1}, "y": {"datum": 0}, "y2": {"datum": 20}}
   },
   {
    "data": {"values": [{}]},
    "mark": {"type": "text", "fontSize": 23, "align": "center", "baseline": "middle"},
    "encoding": {"x": {"datum": 176.8}, "y": {"datum": 19.55}, "text": {"value": "B6A. F1 x C57Bl/6"}}
   }
  ]
 }
]
}
